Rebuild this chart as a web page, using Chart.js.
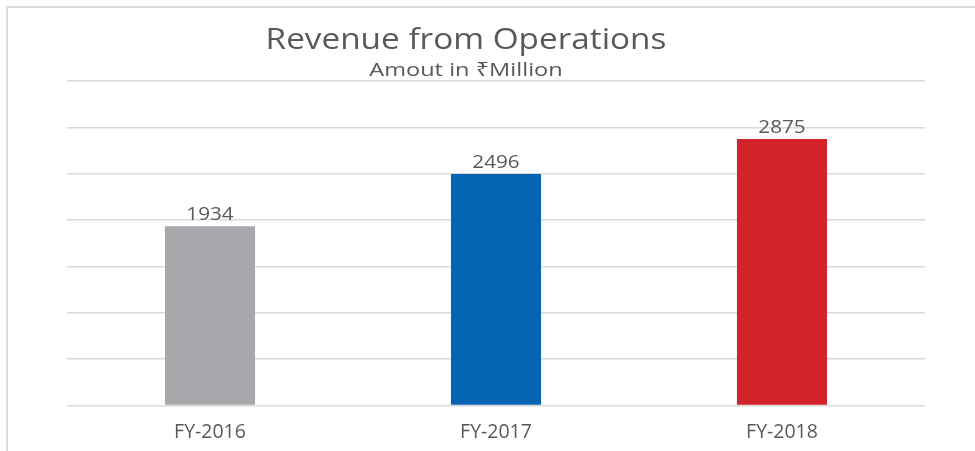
<!DOCTYPE html>
<html><head><meta charset="utf-8">
<script src="https://cdn.jsdelivr.net/npm/chart.js@4.4.1/dist/chart.umd.min.js"></script>
<style>
html,body{margin:0;padding:0;background:#fff;}
#wrap{position:relative;width:975px;height:451px;overflow:hidden;}
#frame{position:absolute;left:6px;top:6px;width:2000px;height:2000px;border-left:2px solid #dcdcdc;border-top:2px solid #dcdcdc;pointer-events:none;}
canvas{position:absolute;left:0;top:0;}
</style></head>
<body><div id="wrap"><canvas id="c" width="975" height="451"></canvas><div id="frame"></div></div>
<script>
const titleText = "Revenue from Operations";
const subtitleText = "Amout in ₹Million";
const categories = ["FY-2016", "FY-2017", "FY-2018"];
const revenue = [1934, 2496, 2875];
const barColors = ["#A7A8AB", "#0563B4", "#D2232A"];

const FONT = "'Open Sans', 'Noto Sans', sans-serif";
const textColor = "#595959";

function stretchText(ctx, text, x, y, sx) {
  ctx.save();
  ctx.translate(x, y);
  ctx.scale(sx, 1);
  ctx.fillText(text, 0, 0);
  ctx.restore();
}

const overlay = {
  id: 'overlay',
  afterDatasetsDraw(chart) {
    const ctx = chart.ctx;
    ctx.save();
    ctx.fillStyle = textColor;
    ctx.textAlign = 'center';
    ctx.textBaseline = 'alphabetic';
    const meta = chart.getDatasetMeta(0);
    ctx.font = "19px " + FONT;
    meta.data.forEach((bar, i) => {
      stretchText(ctx, String(revenue[i]), bar.x, bar.y - 6, 1.09);
    });
    ctx.font = "30px " + FONT;
    stretchText(ctx, titleText, 466, 49, 1.11);
    ctx.font = "19px " + FONT;
    stretchText(ctx, subtitleText, 466, 76, 1.24);
    ctx.restore();
  }
};

new Chart(document.getElementById('c'), {
  type: 'bar',
  data: {
    labels: categories,
    datasets: [{
      data: revenue,
      backgroundColor: barColors,
      borderWidth: 0,
      barPercentage: 0.315,
      categoryPercentage: 1.0
    }]
  },
  options: {
    responsive: false,
    animation: false,
    devicePixelRatio: 1,
    layout: { padding: { left: 67, right: 50, top: 81, bottom: 0 } },
    plugins: { legend: { display: false }, tooltip: { enabled: false }, title: { display: false } },
    scales: {
      x: {
        grid: { display: false },
        border: { display: false },
        ticks: { color: textColor, font: { family: FONT, size: 19.5 }, padding: 7 }
      },
      y: {
        min: 0, max: 3500,
        ticks: { stepSize: 500, display: false },
        grid: { color: '#d9d9d9', lineWidth: 1.5, drawTicks: false },
        border: { display: false }
      }
    }
  },
  plugins: [overlay]
});
</script>
</body></html>
